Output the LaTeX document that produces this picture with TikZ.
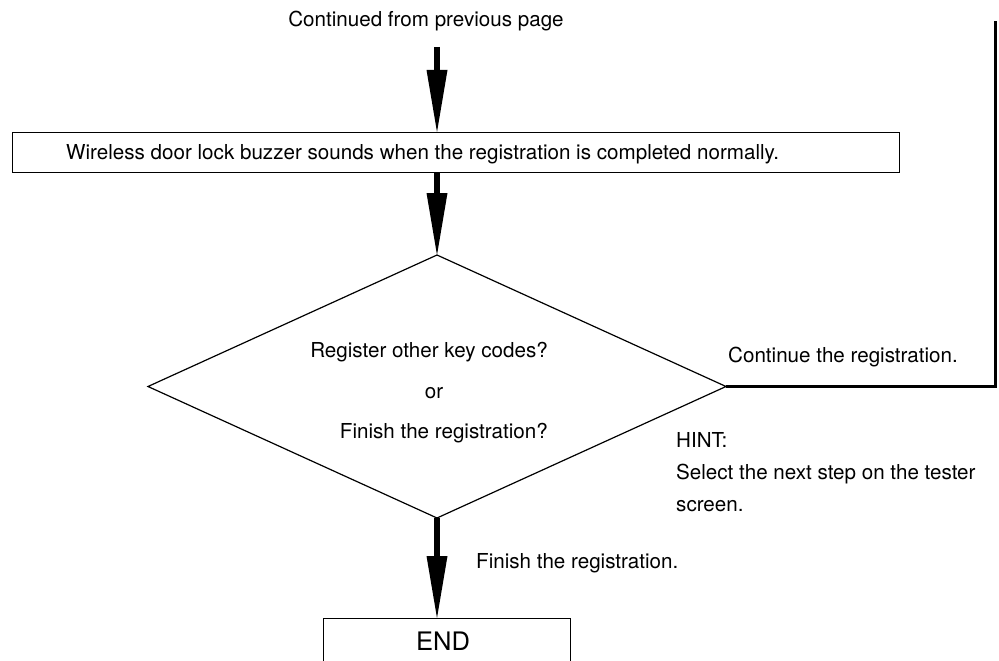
\documentclass[tikz,border=0pt]{standalone}
\usepackage{fontspec}
\setmainfont{TeX Gyre Heros}
\usetikzlibrary{shapes.geometric,arrows.meta}
\begin{document}
\begin{tikzpicture}[x=1pt,y=-1pt,
  txt/.style={font=\fontsize{20.6}{24}\selectfont, inner sep=0pt},
  bigtxt/.style={font=\fontsize{25.5}{30}\selectfont, inner sep=0pt},
  box/.style={draw, line width=1pt, rectangle, inner sep=0pt, outer sep=0pt},
  bigarrow/.style={line width=5.5pt, -{Triangle[length=62pt,width=21pt,line width=0pt]}},
  thinline/.style={line width=1.2pt},
  loopline/.style={line width=3pt, line join=miter}]
\useasboundingbox (0,0) rectangle (999,661);
\clip (0,0) rectangle (999,661);
% texts and shapes
\node[txt, anchor=base] (cont) at (426,27) {Continued from previous page};
\node[box, minimum width=887pt, minimum height=40pt, anchor=north west] (reg) at (12,132) {};
\node[txt, anchor=base west] (regtxt) at (66,159) {Wireless door lock buzzer sounds when the registration is completed normally.};
\node[draw, diamond, thinline, minimum width=578pt, minimum height=263pt, inner sep=0pt, outer sep=0pt] (dia) at (437,386.5) {};
\node[txt, anchor=base east] (q1) at (548,357) {Register other key codes?};
\node[txt, anchor=base] (q2) at (434,398) {or};
\node[txt, anchor=base east] (q3) at (548,438) {Finish the registration?};
\node[txt, anchor=base west] (cont2) at (728,362) {Continue the registration.};
\node[txt, anchor=base west] (hint) at (676,447) {HINT:};
\node[txt, anchor=base west] (hint2) at (676,479) {Select the next step on the tester};
\node[txt, anchor=base west] (hint3) at (676,511) {screen.};
\node[txt, anchor=base west] (fin) at (476,568) {Finish the registration.};
\node[box, minimum width=247pt, minimum height=80pt, anchor=north west] (endb) at (323,618) {};
\node[bigtxt, anchor=base] (endtxt) at (443,650) {END};
% connectors
\coordinate (a0) at (437,47);
\coordinate (rt) at (995,21);
\draw[bigarrow] (a0) -- (a0 |- reg.north);
\draw[bigarrow] (reg.south -| dia.north) -- (dia.north);
\draw[bigarrow] (dia.south) -- (dia.south |- endb.north);
\draw[loopline] (dia.east) -- (dia.east -| rt) -- (rt);
\end{tikzpicture}
\end{document}
